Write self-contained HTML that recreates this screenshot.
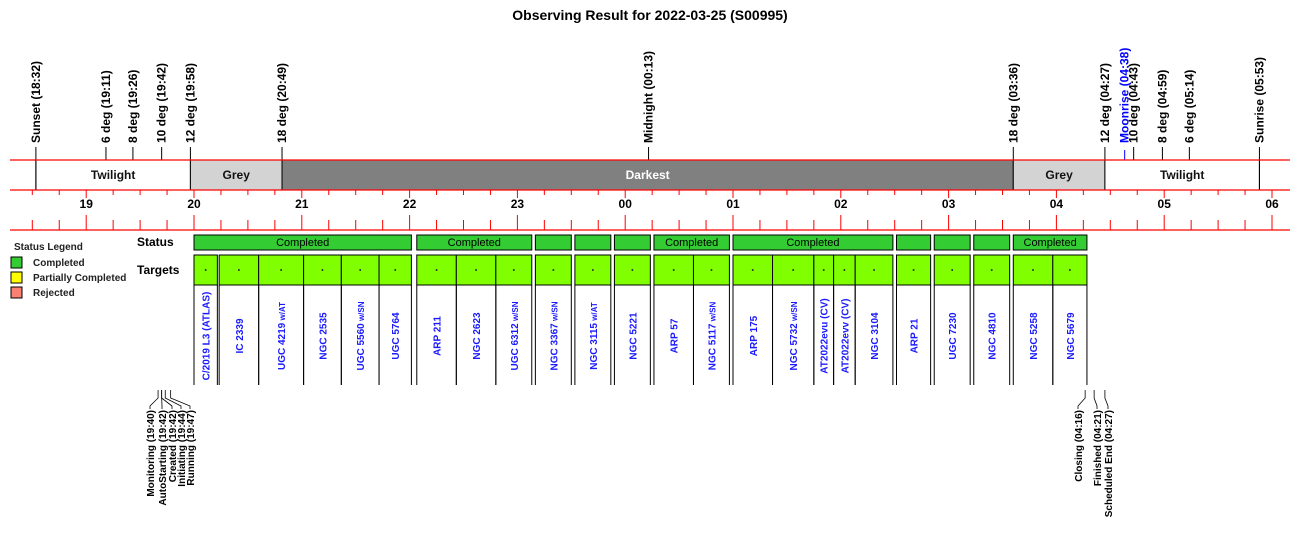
<!DOCTYPE html>
<html><head><meta charset="utf-8"><style>
html,body{margin:0;padding:0;background:#fff;}
svg{display:block;font-family:"Liberation Sans",Arial,sans-serif;}
</style></head><body>
<svg id="chart" width="1300" height="560" viewBox="0 0 1300 560" xmlns="http://www.w3.org/2000/svg">
<text x="650" y="20" text-anchor="middle" font-size="14" font-weight="bold">Observing Result for 2022-03-25 (S00995)</text>
<g id="band"></g><g id="events"></g><g id="axis"></g><g id="status"></g><g id="targets"></g><g id="logs"></g>
<g>
<text x="14" y="250" font-size="10" font-weight="bold" fill="#222">Status Legend</text>
<rect x="11" y="257" width="11" height="11" fill="#33cc33" stroke="#000"/>
<text x="33" y="266" font-size="10" font-weight="bold" fill="#222">Completed</text>
<rect x="11" y="272" width="11" height="11" fill="#ffff00" stroke="#000"/>
<text x="33" y="281" font-size="10" font-weight="bold" fill="#222">Partially Completed</text>
<rect x="11" y="287" width="11" height="11" fill="#fa8072" stroke="#000"/>
<text x="33" y="296" font-size="10" font-weight="bold" fill="#222">Rejected</text>
</g>
<text x="137" y="246" font-size="12" font-weight="bold">Status</text>
<text x="137" y="274" font-size="12" font-weight="bold">Targets</text>
</svg>
<script>
const eventNames=["Sunset","6 deg","8 deg","10 deg","12 deg","18 deg","Midnight","18 deg","12 deg","Moonrise","10 deg","8 deg","6 deg","Sunrise"];
const eventTimes=["18:32","19:11","19:26","19:42","19:58","20:49","00:13","03:36","04:27","04:38","04:43","04:59","05:14","05:53"];
const bandNames=["Twilight","Grey","Darkest","Grey","Twilight"];
const bandStarts=["18:32","19:58","20:49","03:36","04:27"];
const bandEnds=["19:58","20:49","03:36","04:27","05:53"];
const hourLabels=["19","20","21","22","23","00","01","02","03","04","05","06"];
const targetNames=["C/2019 L3 (ATLAS)","IC 2339","UGC 4219|w/AT","NGC 2535","UGC 5560|w/SN","UGC 5764","ARP 211","NGC 2623","UGC 6312|w/SN","NGC 3367|w/SN","NGC 3115|w/AT","NGC 5221","ARP 57","NGC 5117|w/SN","ARP 175","NGC 5732|w/SN","AT2022evu (CV)","AT2022evv (CV)","NGC 3104","ARP 21","UGC 7230","NGC 4810","NGC 5258","NGC 5679"];
const targetStarts=["20:00","20:14","20:36","21:01","21:22","21:43","22:04","22:26","22:48","23:10","23:32","23:54","00:16","00:38","01:00","01:22","01:45","01:56","02:08","02:31","02:52","03:14","03:36","03:58"];
const targetEnds=["20:13","20:36","21:01","21:22","21:43","22:01","22:26","22:48","23:08","23:30","23:52","00:14","00:38","00:58","01:22","01:45","01:56","02:08","02:29","02:50","03:12","03:34","03:58","04:17"];
const statusStarts=["20:00","22:04","23:10","23:32","23:54","00:16","01:00","02:31","02:52","03:14","03:36"];
const statusEnds=["22:01","23:08","23:30","23:52","00:14","00:58","02:29","02:50","03:12","03:34","04:17"];
const statusValues=["Completed","Completed","Completed","Completed","Completed","Completed","Completed","Completed","Completed","Completed","Completed"];
const logNames=["Monitoring","AutoStarting","Created","Initiating","Running","Closing","Finished","Scheduled End"];
const logTimes=["19:40","19:42","19:42","19:44","19:47","04:16","04:21","04:27"];

const NS="http://www.w3.org/2000/svg";
function mins(s){let [h,m]=s.split(":").map(Number);if(h<12)h+=24;return h*60+m-1200;}
function X(s){return 194+mins(s)*107.8/60;}
function xm(m){return 194+m*107.8/60;}
function mk(parent,tag,attrs,text){const e=document.createElementNS(NS,tag);for(const k in attrs)e.setAttribute(k,attrs[k]);if(text!==undefined)e.textContent=text;document.getElementById(parent).appendChild(e);return e;}

// band
bandNames.forEach((n,i)=>{
 const x0=X(bandStarts[i]),x1=X(bandEnds[i]);
 const fill=n==="Darkest"?"#808080":(n==="Grey"?"#d3d3d3":"#ffffff");
 const r=mk("band","rect",{x:x0,y:160,width:x1-x0,height:30,fill:fill,stroke:"#000"});
 
 
 const t=mk("band","text",{x:(x0+x1)/2,y:179,"text-anchor":"middle","font-size":12,"font-weight":"bold",fill:n==="Darkest"?"#fff":"#111"},n);
 
 
});
// events
eventNames.forEach((n,i)=>{
 const x=X(eventTimes[i]);const blue=n==="Moonrise";
 const full=(n==="Sunset"||n==="Sunrise");
 const l=mk("events","line",{x1:x,x2:x,y1:blue?150:147,y2:full?190:160,stroke:blue?"#0000ff":"#000"});
 
 
 const t=mk("events","text",{transform:`translate(${x+4},143) rotate(-90)`,"font-size":12,"font-weight":"bold",fill:blue?"#0000ff":"#000"},n+" ("+eventTimes[i]+")");
 
 
});
// axis
[160,190,230].forEach(y=>{const l=mk("axis","line",{x1:10,x2:1290,y1:y,y2:y,stroke:"#ff0000","stroke-width":1.2});
 
 });
for(let m=-90;m<=600;m+=15){
 const x=xm(m);const major=m%60===0;
 mk("axis","line",{x1:x,x2:x,y1:190,y2:major?198:195,stroke:"#ff0000"});
 mk("axis","line",{x1:x,x2:x,y1:major?215:220,y2:230,stroke:"#ff0000"});
}
hourLabels.forEach((h,i)=>{
 const t=mk("axis","text",{x:xm((i-1)*60),y:208,"text-anchor":"middle","font-size":12,"font-weight":"bold"},h);
 
 
});
// status
statusStarts.forEach((s,i)=>{
 const x0=X(s),x1=X(statusEnds[i]);
 const r=mk("status","rect",{x:x0,y:235,width:x1-x0,height:15,fill:"#33cc33",stroke:"#000"});
 
 
 if(x1-x0>60){const t=mk("status","text",{x:(x0+x1)/2,y:246,"text-anchor":"middle","font-size":11},statusValues[i]);
 
 }
});
// targets
targetNames.forEach((n,i)=>{
 const x0=X(targetStarts[i]),x1=X(targetEnds[i]);
 const r=mk("targets","rect",{x:x0,y:255,width:x1-x0,height:30,fill:"#7fff00",stroke:"#000"});
 
 
 mk("targets","circle",{cx:(x0+x1)/2,cy:270,r:1,fill:"#333"});
 mk("targets","line",{x1:x0,x2:x0,y1:285,y2:385,stroke:"#000"});
 mk("targets","line",{x1:x1,x2:x1,y1:285,y2:385,stroke:"#000"});
 const parts=n.split("|");
 const t=mk("targets","text",{transform:`translate(${(x0+x1)/2+4},336) rotate(-90)`,"text-anchor":"middle","font-size":10,"font-weight":"bold",fill:"#1a1aff"});
 
 
 const a=document.createElementNS(NS,"tspan");a.textContent=parts[0];t.appendChild(a);
 if(parts[1]){const b=document.createElementNS(NS,"tspan");b.setAttribute("font-size","8");b.textContent=" "+parts[1];t.appendChild(b);}
});
// logs
const labelX=[150,162,172,181,190,1078,1097,1108];
logNames.forEach((n,i)=>{
 const x=X(logTimes[i]);const lx=labelX[i];
 const p=mk("logs","polyline",{points:`${x},390 ${x},398 ${lx},406 ${lx},409`,fill:"none",stroke:"#000","stroke-width":0.8});
 
 
 const t=mk("logs","text",{transform:`translate(${lx+4},410) rotate(-90)`,"text-anchor":"end","font-size":10,"font-weight":"bold"},n+" ("+logTimes[i]+")");
 
 
});
</script>
</body></html>
